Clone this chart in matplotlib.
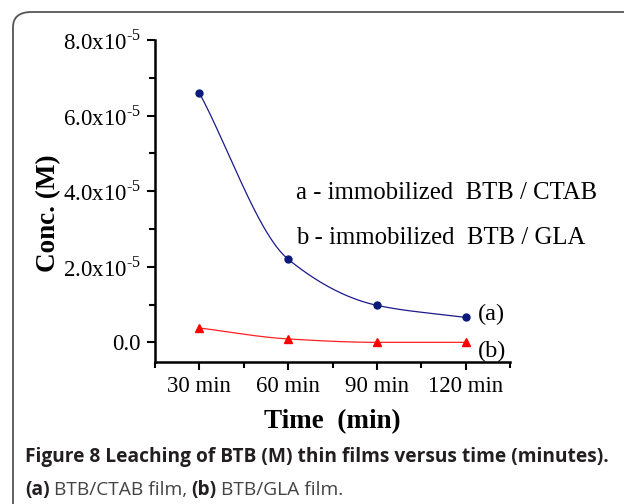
import numpy as np
import matplotlib
matplotlib.use('Agg')
import matplotlib.pyplot as plt
from matplotlib.patches import FancyBboxPatch
from matplotlib.ticker import FixedLocator, FixedFormatter

# data (conc. in M)
times = ['30 min', '60 min', '90 min', '120 min']
conc_ctab = [6.6e-5, 2.2e-5, 0.98e-5, 0.66e-5]
conc_gla = [0.38e-5, 0.09e-5, 0.0, 0.0]
yticks = [0.0, 2e-5, 4e-5, 6e-5, 8e-5]
yticklabels = ['0.0', '2.0x10$^{\mathregular{\u20105}}$', '4.0x10$^{\mathregular{\u20105}}$',
               '6.0x10$^{\mathregular{\u20105}}$', '8.0x10$^{\mathregular{\u20105}}$']


def smooth(x, y, n=200):
    # monotone cubic (Fritsch-Carlson) just for drawing the connecting line
    x = np.asarray(x, float)
    y = np.asarray(y, float)
    h = np.diff(x)
    d = np.diff(y) / h
    m = np.zeros_like(y)
    m[0], m[-1] = d[0], d[-1]
    for i in range(1, len(y) - 1):
        if d[i - 1] * d[i] <= 0:
            m[i] = 0
        else:
            m[i] = 2 / (1 / d[i - 1] + 1 / d[i])
    xs = np.linspace(x[0], x[-1], n)
    k = np.clip(np.searchsorted(x, xs) - 1, 0, len(x) - 2)
    t = (xs - x[k]) / h[k]
    h00 = 2 * t**3 - 3 * t**2 + 1
    h10 = t**3 - 2 * t**2 + t
    h01 = -2 * t**3 + 3 * t**2
    h11 = t**3 - t**2
    ys = h00 * y[k] + h10 * h[k] * m[k] + h01 * y[k + 1] + h11 * h[k] * m[k + 1]
    return xs, ys


plt.rcParams['mathtext.fontset'] = 'custom'
plt.rcParams['mathtext.rm'] = 'Liberation Serif'
serif = 'Liberation Serif'

fig = plt.figure(figsize=(6.24, 5.04), dpi=100)

# rounded frame of the figure panel
frame = FancyBboxPatch((13 / 624, -0.2), 1.2, 1.2 - 12 / 504,
                       boxstyle='round,pad=0,rounding_size=0.03',
                       transform=fig.transFigure, facecolor='none',
                       edgecolor='#555555', linewidth=1.3, clip_on=False)
fig.patches.append(frame)

ax = fig.add_axes([155 / 624, 1 - 362 / 504, 355 / 624, (362 - 40) / 504])
x = np.arange(1, len(times) + 1)

xs, ys = smooth(x, conc_ctab)
ax.plot(xs, ys, color='#1a1a8c', linewidth=0.9)
ax.plot(x, conc_ctab, 'o', color='#0a1a7a', markersize=5)
xs, ys = smooth(x, conc_gla)
ax.plot(xs, ys, color='#ff2020', linewidth=0.9)
ax.plot(x, conc_gla, '^', color='#ff0000', markersize=6)

ax.set_xlim(0.5, 4.5)
ax.set_ylim(-0.52e-5, 8.0e-5)
ax.spines['top'].set_visible(False)
ax.spines['right'].set_visible(False)
ax.spines['left'].set_linewidth(1.8)
ax.spines['bottom'].set_linewidth(1.8)

ax.xaxis.set_major_locator(FixedLocator(x))
ax.xaxis.set_major_formatter(FixedFormatter(times))
ax.xaxis.set_minor_locator(FixedLocator([0.5, 1.5, 2.5, 3.5, 4.5]))
ax.yaxis.set_major_locator(FixedLocator(yticks))
ax.yaxis.set_major_formatter(FixedFormatter(yticklabels))
ax.yaxis.set_minor_locator(FixedLocator([1e-5, 3e-5, 5e-5, 7e-5]))
ax.tick_params(which='major', direction='out', length=6, width=1.5, pad=4)
ax.tick_params(which='minor', direction='out', length=4, width=1.5)
for lab in ax.get_xticklabels() + ax.get_yticklabels():
    lab.set_fontfamily(serif)
    lab.set_fontsize(16.5)

ax.set_xlabel('Time  (min)', fontfamily=serif, fontsize=19.5, fontweight='bold', labelpad=9)
ax.set_ylabel('Conc. (M)', fontfamily=serif, fontsize=19.5, fontweight='bold', va='center')
ax.yaxis.set_label_coords(-0.301, 0.463)

ax.text(2.09, 3.8e-5, 'a - immobilized  BTB / CTAB', fontfamily=serif, fontsize=17.8, va='baseline')
ax.text(2.09, 2.61e-5, 'b - immobilized  BTB / GLA', fontfamily=serif, fontsize=17.8, va='baseline')
ax.text(4.14, 0.73e-5, '(a)', fontfamily=serif, fontsize=17.5, va='center')
ax.text(4.14, -0.24e-5, '(b)', fontfamily=serif, fontsize=17.5, va='center')

# caption
cap = '#231f20'
fs = 13.8
fig.text(25 / 624, 1 - 457 / 504, 'Figure 8 Leaching of BTB (M) thin films versus time (minutes).',
         fontfamily='Open Sans', fontweight='bold', fontsize=fs, color=cap, va='center')
t1 = fig.text(25 / 624, 1 - 490 / 504, '(a)', fontfamily='Open Sans', fontweight='bold',
              fontsize=fs, color=cap, va='center')
fig.canvas.draw()
r = fig.canvas.get_renderer()
bb = t1.get_window_extent(r)
t2 = fig.text(bb.x1 / 624 + 0.007, 1 - 490 / 504, 'BTB/CTAB film,', fontfamily='Open Sans',
              fontsize=fs, color='#444444', va='center')
bb = t2.get_window_extent(r)
t3 = fig.text(bb.x1 / 624 + 0.007, 1 - 490 / 504, '(b)', fontfamily='Open Sans', fontweight='bold',
              fontsize=fs, color=cap, va='center')
bb = t3.get_window_extent(r)
fig.text(bb.x1 / 624 + 0.007, 1 - 490 / 504, 'BTB/GLA film.', fontfamily='Open Sans',
         fontsize=fs, color='#444444', va='center')

fig.savefig('out.png', dpi=100)
